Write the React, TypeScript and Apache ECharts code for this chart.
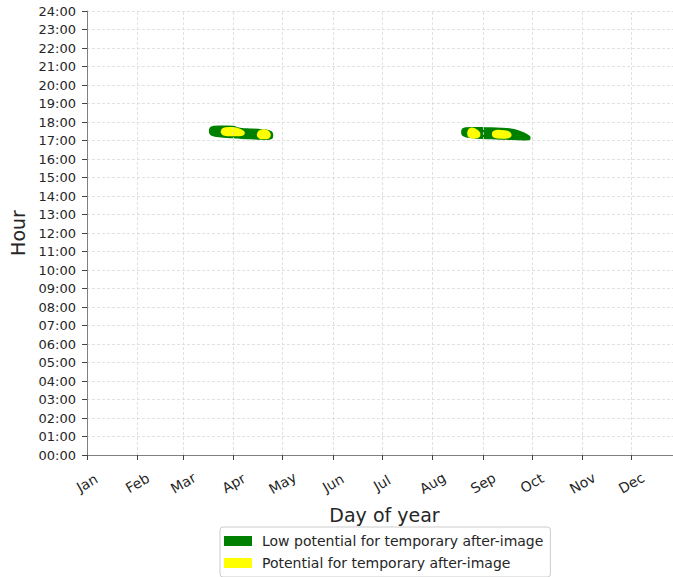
import React, { useEffect, useRef } from "react";
import * as echarts from "echarts";

const FONT = "DejaVu Sans";

// month ticks (day of year)
const monthStarts = [0, 31, 59, 90, 120, 151, 181, 212, 243, 273, 304, 334];
const monthNames = ["Jan", "Feb", "Mar", "Apr", "May", "Jun", "Jul", "Aug", "Sep", "Oct", "Nov", "Dec"];

// Low potential (green) – spring blob
const aprGreenDays = [75.8, 78, 82, 86, 90, 92.5, 95, 100, 105, 110, 113.3];
const aprGreenTop = [17.66, 17.74, 17.76, 17.76, 17.74, 17.66, 17.62, 17.6, 17.58, 17.54, 17.42];
const aprGreenBottom = [17.36, 17.27, 17.22, 17.19, 17.17, 17.16, 17.14, 17.12, 17.1, 17.08, 17.14];

// Low potential (green) – autumn blob
const sepGreenDays = [230.5, 232.5, 236, 242, 248, 254, 260, 264, 268, 271.3];
const sepGreenTop = [17.6, 17.66, 17.68, 17.67, 17.66, 17.64, 17.6, 17.52, 17.38, 17.2];
const sepGreenBottom = [17.3, 17.22, 17.18, 17.14, 17.12, 17.1, 17.08, 17.07, 17.06, 17.08];

// Potential (yellow) patches
const aprYellow1Days = [83, 85, 89, 92, 94.5, 96];
const aprYellow1Top = [17.58, 17.66, 17.67, 17.64, 17.55, 17.45];
const aprYellow1Bottom = [17.38, 17.3, 17.28, 17.28, 17.3, 17.35];

const aprYellow2Days = [105, 106.5, 109, 111, 112];
const aprYellow2Top = [17.4, 17.53, 17.55, 17.48, 17.36];
const aprYellow2Bottom = [17.22, 17.13, 17.12, 17.15, 17.24];

const sepYellow1Days = [234, 235.5, 238, 240.5];
const sepYellow1Top = [17.5, 17.64, 17.6, 17.42];
const sepYellow1Bottom = [17.28, 17.18, 17.16, 17.24];

const sepYellow2Days = [249.3, 251, 254, 257.5, 259.5];
const sepYellow2Top = [17.45, 17.52, 17.52, 17.48, 17.38];
const sepYellow2Bottom = [17.24, 17.17, 17.15, 17.16, 17.22];

const LOW = "Low potential for temporary after-image";
const POT = "Potential for temporary after-image";
const GREEN = "#008000";
const YELLOW = "#ffff00";

function blob(name: string, color: string, days: number[], top: number[], bottom: number[], z: number) {
  return {
    type: "custom",
    name,
    coordinateSystem: "cartesian2d",
    itemStyle: { color },
    z,
    silent: true,
    data: days.map((d, i) => [d, top[i], bottom[i]]),
    encode: { x: 0, y: [1, 2] },
    renderItem: (params: any, api: any) => {
      if (params.dataIndex !== 0) return null;
      const pts: number[][] = [];
      days.forEach((d, i) => pts.push(api.coord([d, top[i]])));
      for (let i = days.length - 1; i >= 0; i--) pts.push(api.coord([days[i], bottom[i]]));
      return {
        type: "polygon",
        shape: { points: pts, smooth: 0.3 },
        style: { fill: color, stroke: color, lineWidth: 2, lineJoin: "round" },
      };
    },
  };
}

export default function App() {
  const ref = useRef<HTMLDivElement>(null);
  useEffect(() => {
    if (!ref.current) return;
    const chart = echarts.init(ref.current, null, { renderer: "svg" });
    const pad = (n: number) => (n < 10 ? "0" + n : "" + n) + ":00";
    chart.setOption({
      animation: false,
      backgroundColor: "#ffffff",
      grid: { left: 87, right: 0, top: 11, bottom: 122 },
      xAxis: {
        type: "value",
        min: 0,
        max: 365,
        name: "Day of year",
        nameLocation: "middle",
        nameGap: 50,
        nameTextStyle: { fontFamily: FONT, fontSize: 19, color: "#262626" },
        axisLine: { show: true, lineStyle: { color: "#808080", width: 1 } },
        axisTick: { show: true, length: 5, customValues: monthStarts, lineStyle: { color: "#444444" } },
        axisLabel: {
          customValues: monthStarts,
          formatter: (v: number) => monthNames[monthStarts.indexOf(v)] ?? "",
          rotate: 30,
          align: "center",
          verticalAlign: "middle",
          margin: 28,
          fontFamily: FONT,
          fontSize: 14,
          color: "#262626",
        },
        splitLine: { show: false },
      },
      yAxis: {
        type: "value",
        min: 0,
        max: 24,
        interval: 1,
        name: "Hour",
        nameLocation: "middle",
        nameGap: 60,
        nameTextStyle: { fontFamily: FONT, fontSize: 19, color: "#262626" },
        axisLine: { show: true, lineStyle: { color: "#808080", width: 1 } },
        axisTick: { show: true, length: 5, lineStyle: { color: "#444444" } },
        axisLabel: {
          formatter: (v: number) => pad(v),
          margin: 11,
          fontFamily: FONT,
          fontSize: 13,
          color: "#262626",
        },
        splitLine: { show: true, lineStyle: { color: "#d9d9d9", width: 0.8, type: [3, 2] } },
      },
      legend: {
        orient: "vertical",
        left: 220,
        top: 527,
        data: [
          { name: LOW, icon: "rect" },
          { name: POT, icon: "rect" },
        ],
        itemWidth: 28,
        itemHeight: 10,
        itemGap: 8,
        padding: [7, 7, 7, 4],
        borderColor: "#cccccc",
        borderWidth: 1,
        borderRadius: 3,
        textStyle: { fontFamily: FONT, fontSize: 14, color: "#262626", padding: [0, 0, 0, 5] },
        selectedMode: false,
      },
      series: [
        {
          type: "line",
          data: [],
          silent: true,
          markLine: {
            silent: true,
            symbol: ["none", "none"],
            label: { show: false },
            lineStyle: { color: "#d9d9d9", width: 0.8, type: [3, 2] },
            data: monthStarts.filter((m) => m > 0).map((m) => ({ xAxis: m })),
          },
        },
        blob(LOW, GREEN, aprGreenDays, aprGreenTop, aprGreenBottom, 2),
        blob(LOW, GREEN, sepGreenDays, sepGreenTop, sepGreenBottom, 2),
        blob(POT, YELLOW, aprYellow1Days, aprYellow1Top, aprYellow1Bottom, 3),
        blob(POT, YELLOW, aprYellow2Days, aprYellow2Top, aprYellow2Bottom, 3),
        blob(POT, YELLOW, sepYellow1Days, sepYellow1Top, sepYellow1Bottom, 3),
        blob(POT, YELLOW, sepYellow2Days, sepYellow2Top, sepYellow2Bottom, 3),
      ],
    });
    return () => chart.dispose();
  }, []);
  return (
    <div
      ref={ref}
      style={{ position: "fixed", left: 0, top: 0, width: 682, height: 577, background: "#fff" }}
    />
  );
}
